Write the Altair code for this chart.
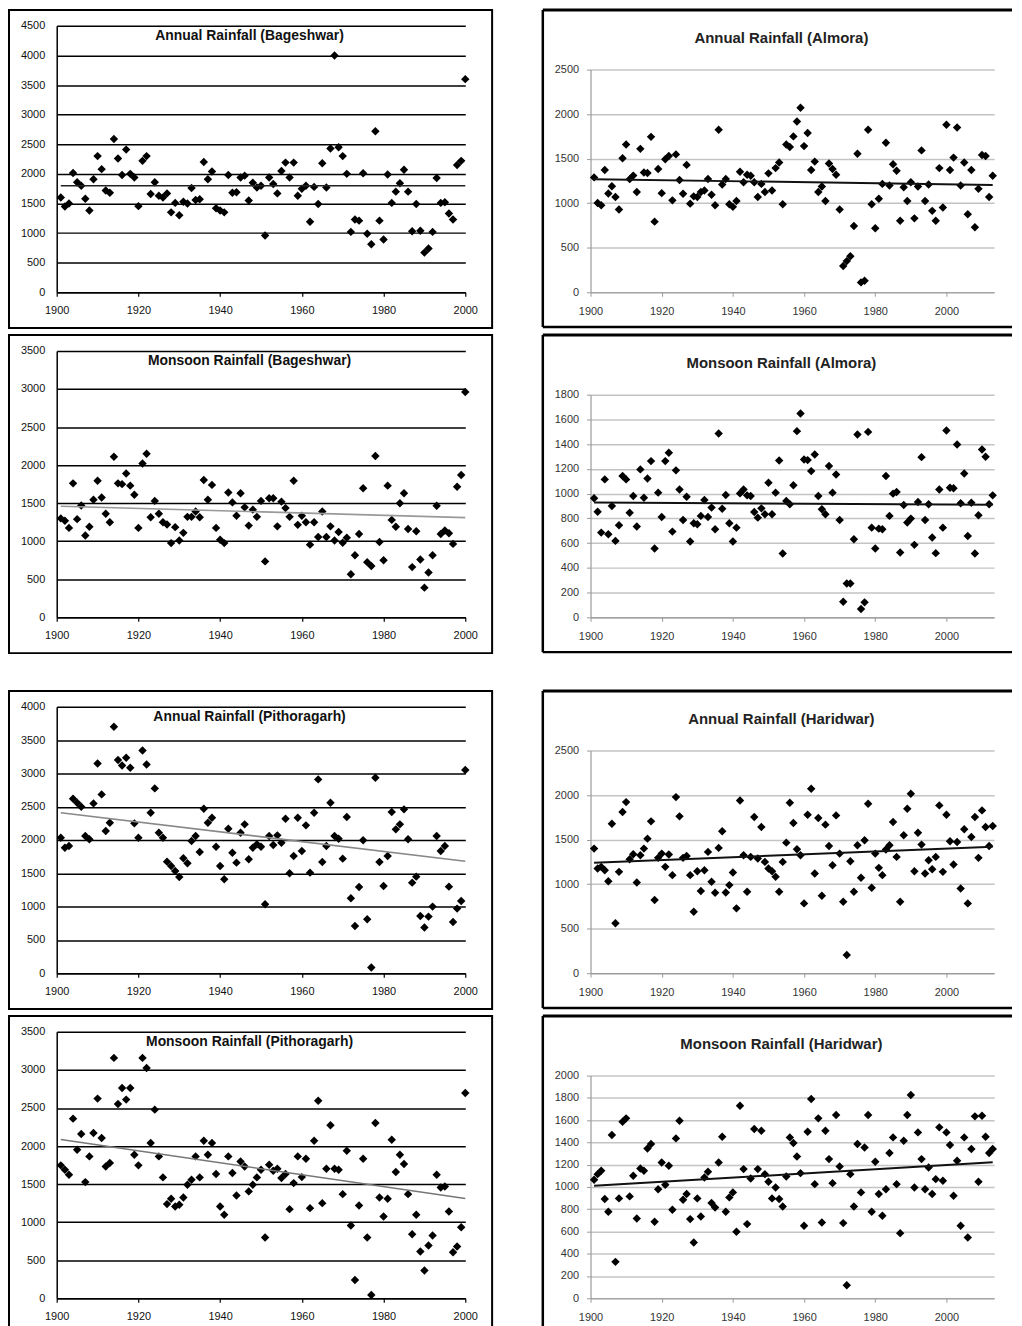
import altair as alt
import pandas as pd

FONT = "Liberation Sans"

YEARS_L = list(range(1901, 2001))
YEARS_R = list(range(1901, 2014))
X_LABELS = [1900, 1920, 1940, 1960, 1980, 2000]

bag_annual = [1600, 1450, 1500, 2015, 1860, 1800, 1580, 1380, 1910, 2300,
              2080, 1720, 1680, 2590, 2260, 1980, 2410, 2000, 1940, 1455,
              2220, 2300, 1660, 1860, 1630, 1600, 1670, 1350, 1510, 1300,
              1530, 1500, 1760, 1560, 1570, 2200, 1910, 2040, 1420, 1380,
              1350, 1980, 1680, 1690, 1940, 1970, 1550, 1850, 1770, 1800,
              960, 1940, 1830, 1670, 2050, 2190, 1940, 2190, 1630, 1750,
              1800, 1190, 1780, 1490, 2180, 1770, 2430, 4000, 2450, 2300,
              2000, 1020, 1230, 1210, 2010, 990, 810, 2720, 1210, 890,
              1990, 1510, 1700, 1840, 2070, 1700, 1030, 1490, 1040, 670,
              740, 1020, 1930, 1510, 1520, 1330, 1230, 2150, 2220, 3600]

bag_monsoon = [1300, 1270, 1175, 1760, 1290, 1470, 1075, 1190, 1545, 1795,
               1575, 1360, 1250, 2110, 1760, 1750, 1890, 1730, 1610, 1175,
               2020, 2150, 1315, 1530, 1360, 1250, 1220, 975, 1185, 1010,
               1110, 1320, 1320, 1390, 1315, 1805, 1545, 1740, 1175, 1020,
               975, 1640, 1510, 1335, 1630, 1445, 1205, 1415, 1320, 1530,
               735, 1565, 1565, 1195, 1520, 1435, 1320, 1795, 1215, 1335,
               1250, 955, 1250, 1055, 1390, 1055, 1195, 1010, 1120, 980,
               1045, 565, 815, 1095, 1695, 725, 675, 2120, 990, 750,
               1730, 1280, 1190, 1500, 1630, 1160, 660, 1130, 760, 390,
               590, 815, 1465, 1095, 1140, 1105, 965, 1715, 1870, 2960]

pith_annual = [2035, 1885, 1910, 2620, 2560, 2500, 2060, 2010, 2550, 3150,
               2685, 2135, 2260, 3700, 3200, 3120, 3235, 3085, 2250, 2035,
               3345, 3135, 2410, 2775, 2110, 2035, 1675, 1610, 1535, 1445,
               1725, 1650, 1985, 2060, 1820, 2470, 2260, 2335, 1900, 1610,
               1410, 2170, 1810, 1660, 2110, 2235, 1710, 1885, 1935, 1900,
               1035, 2060, 1925, 2070, 1960, 2320, 1500, 1760, 2335, 1835,
               2220, 1510, 2410, 2910, 1670, 1910, 2560, 2060, 2020, 1720,
               2345, 1125, 710, 1295, 1995, 810, 85, 2935, 1670, 1310,
               1760, 2420, 2160, 2235, 2460, 2010, 1360, 1450, 860, 685,
               850, 1000, 2060, 1835, 1910, 1300, 770, 970, 1085, 3050]

pith_monsoon = [1746, 1689, 1623, 2360, 1952, 2158, 1526, 1864, 2171, 2623,
                2105, 1732, 1776, 3158, 2553, 2763, 2610, 2763, 1886, 1746,
                3158, 3026, 2039, 2478, 1864, 1588, 1237, 1307, 1206, 1228,
                1325, 1491, 1557, 1864, 1588, 2070, 1886, 2039, 1632, 1206,
                1097, 1864, 1645, 1351, 1798, 1732, 1404, 1491, 1588, 1689,
                798, 1754, 1675, 1702, 1579, 1632, 1171, 1513, 1864, 1592,
                1833, 1184, 2070, 2596, 1250, 1702, 2272, 1702, 1689, 1368,
                1939, 956, 241, 1219, 1833, 798, 44, 2303, 1325, 1075,
                1307, 2083, 1658, 1886, 1763, 1368, 842, 1097, 614, 364,
                693, 825, 1623, 1456, 1469, 1140, 605, 680, 934, 2697]

alm_annual = [1290, 1003, 977, 1372, 1110, 1190, 1070, 930, 1505, 1660,
              1270, 1310, 1125, 1610, 1345, 1340, 1745, 793, 1383, 1113,
              1493, 1530, 1032, 1548, 1261, 1106, 1430, 995, 1077, 1070,
              1125, 1143, 1272, 1095, 977, 1825, 1210, 1272, 988, 959,
              1025, 1353, 1235, 1320, 1309, 1235, 1070, 1217, 1125, 1335,
              1143, 1394, 1456, 988, 1660, 1630, 1750, 1917, 2072, 1641,
              1788, 1372, 1467, 1125, 1187, 1025, 1445, 1383, 1320, 930,
              295, 350, 405, 745, 1556, 111, 129, 1825, 988, 719,
              1051, 1217, 1678, 1198, 1438, 1364, 804, 1180, 1025, 1235,
              830, 1187, 1593, 1025, 1210, 914, 804, 1394, 951, 1880,
              1372, 1512, 1851, 1198, 1456, 877, 1372, 730, 1161, 1541,
              1530, 1070, 1309]

alm_monsoon = [962, 854, 685, 1115, 672, 900, 618, 744, 1142, 1115,
               846, 981, 734, 1196, 967, 1123, 1263, 556, 1008, 811,
               1263, 1330, 693, 1188, 1034, 787, 975, 613, 760, 752,
               820, 948, 811, 887, 712, 1486, 878, 989, 760, 613,
               725, 1002, 1034, 986, 981, 852, 806, 881, 833, 1088,
               833, 1008, 1268, 516, 940, 914, 1067, 1505, 1647, 1276,
               1271, 1182, 1317, 981, 873, 833, 1223, 1008, 1155, 787,
               126, 274, 274, 631, 1478, 67, 121, 1499, 725, 556,
               717, 712, 1142, 820, 1000, 1013, 524, 908, 766, 798,
               586, 932, 1295, 787, 914, 645, 519, 1034, 725, 1510,
               1048, 1043, 1397, 922, 1163, 658, 927, 516, 825, 1357,
               1298, 914, 986]

har_annual = [1399, 1175, 1194, 1157, 1033, 1679, 560, 1138, 1810, 1921,
              1280, 1336, 1019, 1325, 1399, 1511, 1705, 821, 1295, 1343,
              1194, 1332, 1101, 1977, 1761, 1295, 1317, 1101, 690, 1145,
              922, 1157, 1362, 1026, 903, 1407, 1593, 907, 989, 1130,
              728, 1940, 1325, 914, 1306, 1754, 1287, 1642, 1250, 1175,
              1145, 1082, 914, 1250, 1466, 1914, 1686, 1392, 1325, 784,
              1780, 2071, 1119, 1742, 869, 1668, 1429, 1213, 1772, 1343,
              802, 205, 1257, 914, 1436, 1071, 1492, 1903, 959, 1343,
              1183, 1101, 1388, 1436, 1698, 1306, 802, 1548, 1847, 2015,
              1145, 1578, 1444, 1119, 1269, 1168, 1306, 1884, 1138, 1780,
              1481, 1220, 1474, 951, 1616, 784, 1530, 1754, 1295, 1828,
              1642, 1429, 1653]

har_monsoon = [1065, 1115, 1146, 891, 777, 1466, 327, 897, 1586, 1616,
               915, 1100, 717, 1166, 1146, 1346, 1385, 687, 980, 1220,
               1019, 1190, 795, 1436, 1595, 885, 936, 711, 501, 897,
               735, 1085, 1136, 855, 816, 1220, 1451, 777, 906, 951,
               597, 1730, 1160, 666, 1076, 1520, 1160, 1505, 1115, 1046,
               897, 995, 891, 825, 1094, 1445, 1394, 1274, 1124, 651,
               1496, 1790, 1025, 1616, 681, 1505, 1250, 1034, 1646, 1184,
               675, 117, 1115, 825, 1385, 951, 1355, 1646, 777, 1226,
               936, 741, 980, 1304, 1445, 1025, 585, 1415, 1646, 1826,
               995, 1490, 1250, 980, 1175, 936, 1070, 1535, 1055, 1490,
               1376, 921, 1235, 651, 1445, 546, 1340, 1634, 1046, 1640,
               1451, 1304, 1340]

# trend lines, start/end values
TREND_YEARS_L = [1901, 2000]
TREND_YEARS_R = [1901, 2013]
trend_bag_annual = [1800, 1800]
trend_bag_monsoon = [1460, 1310]
trend_pith_annual = [2410, 1680]
trend_pith_monsoon = [2085, 1310]
trend_alm_annual = [1270, 1205]
trend_alm_monsoon = [928, 910]
trend_har_annual = [1240, 1420]
trend_har_monsoon = [1010, 1222]

H = 268  # group height shared by both panels of a row


def one():
    return pd.DataFrame({"k": [0]})


def left_panel(title, values, trend, ymax, trend_color):
    W = 411
    df = pd.DataFrame({"year": YEARS_L, "value": values})
    tdf = pd.DataFrame({"year": TREND_YEARS_L, "value": trend})
    xs = alt.Scale(domain=[1900, 2000], nice=False, zero=False)
    ys = alt.Scale(domain=[0, ymax], nice=False, zero=True)
    xax = alt.Axis(values=X_LABELS, format="d", grid=False, domainColor="black",
                   domainWidth=1.5, tickColor="black", tickWidth=1.2, tickSize=4,
                   labelPadding=8, labelFontSize=11, labelColor="#111", labelFlush=False,
                   title=None)
    yax = alt.Axis(values=list(range(0, ymax + 1, 500)), format="d", grid=True,
                   gridColor="black", gridWidth=1.5, domainColor="black", domainWidth=1.5,
                   ticks=False, labelPadding=12, labelFontSize=11, labelColor="#111",
                   labelFlush=False, title=None)
    pts = alt.Chart(df).mark_point(shape="diamond", filled=True, size=72, color="black",
                                   opacity=1).encode(
        x=alt.X("year:Q", scale=xs, axis=xax), y=alt.Y("value:Q", scale=ys, axis=yax))
    tl = alt.Chart(tdf).mark_line(color=trend_color, strokeWidth=1.6).encode(
        x=alt.X("year:Q", scale=xs, axis=xax), y=alt.Y("value:Q", scale=ys, axis=yax))
    ttl = alt.Chart(one()).mark_text(text=title, font=FONT, fontSize=14, fontWeight="bold",
                                     color="#111", baseline="middle", align="center").encode(
        x=alt.value(194), y=alt.value(10))
    frame = alt.Chart(one()).mark_rect(fillOpacity=0, stroke="black", strokeWidth=2).encode(
        x=alt.value(-48), x2=alt.value(W + 27), y=alt.value(-16), y2=alt.value(H + 36))
    return alt.layer(frame, pts, tl, ttl).properties(width=W, height=H)


def right_panel(title, values, trend, ymax, step):
    W = 406
    top_px = 44
    df = pd.DataFrame({"year": YEARS_R, "value": values})
    tdf = pd.DataFrame({"year": TREND_YEARS_R, "value": trend})
    xs = alt.Scale(domain=[1900, 2013.4], nice=False, zero=False)
    ys = alt.Scale(domain=[0, ymax], nice=False, zero=True, range=[H, top_px])
    xax = alt.Axis(values=X_LABELS, format="d", grid=False, domainColor="#9a9a9a",
                   domainWidth=1.2, tickColor="#9a9a9a", tickSize=4,
                   labelPadding=9, labelFontSize=11, labelColor="#333", labelFlush=False,
                   title=None)
    yax = alt.Axis(values=list(range(0, ymax + 1, step)), format="d", grid=True,
                   gridColor="#c4c4c4", gridWidth=1.5, domainColor="#9a9a9a",
                   domainWidth=1.2, tickColor="#9a9a9a", tickSize=4, labelPadding=8,
                   labelFontSize=11, labelColor="#333", labelFlush=False, title=None)
    pts = alt.Chart(df).mark_point(shape="diamond", filled=True, size=72, color="black",
                                   opacity=1).encode(
        x=alt.X("year:Q", scale=xs, axis=xax), y=alt.Y("value:Q", scale=ys, axis=yax))
    tl = alt.Chart(tdf).mark_line(color="#111", strokeWidth=2).encode(
        x=alt.X("year:Q", scale=xs, axis=xax), y=alt.Y("value:Q", scale=ys, axis=yax))
    ttl = alt.Chart(one()).mark_text(text=title, font=FONT, fontSize=15, fontWeight="bold",
                                     color="#222", baseline="middle", align="center").encode(
        x=alt.value(192), y=alt.value(12))
    r_top = alt.Chart(one()).mark_rule(color="black", strokeWidth=3).encode(
        x=alt.value(-48), x2=alt.value(424), y=alt.value(-16))
    r_left = alt.Chart(one()).mark_rule(color="black", strokeWidth=2.5).encode(
        x=alt.value(-48), y=alt.value(-16), y2=alt.value(H + 35))
    r_bot = alt.Chart(one()).mark_rule(color="black", strokeWidth=2.5).encode(
        x=alt.value(-48), x2=alt.value(424), y=alt.value(H + 35))
    return alt.layer(r_top, r_left, r_bot, pts, tl, ttl).properties(width=W, height=H)


p1 = left_panel("Annual Rainfall (Bageshwar)", bag_annual, trend_bag_annual, 4500, "#222")
p2 = right_panel("Annual Rainfall  (Almora)", alm_annual, trend_alm_annual, 2500, 500)
p3 = left_panel("Monsoon Rainfall (Bageshwar)", bag_monsoon, trend_bag_monsoon, 3500, "#999")
p4 = right_panel("Monsoon Rainfall  (Almora)", alm_monsoon, trend_alm_monsoon, 1800, 200)
p5 = left_panel("Annual Rainfall (Pithoragarh)", pith_annual, trend_pith_annual, 4000, "#888")
p6 = right_panel("Annual Rainfall  (Haridwar)", har_annual, trend_har_annual, 2500, 500)
p7 = left_panel("Monsoon Rainfall (Pithoragarh)", pith_monsoon, trend_pith_monsoon, 3500, "#777")
p8 = right_panel("Monsoon Rainfall  (Haridwar)", har_monsoon, trend_har_monsoon, 2000, 200)

row1 = alt.hconcat(p1, p2, spacing=48)
row2 = alt.hconcat(p3, p4, spacing=48)
row3 = alt.hconcat(p5, p6, spacing=48)
row4 = alt.hconcat(p7, p8, spacing=48)

upper = alt.vconcat(row1, row2, spacing=4)
lower = alt.vconcat(row3, row4, spacing=4)

chart = alt.vconcat(upper, lower, spacing=35).properties(
    padding={"top": -4, "left": 0, "right": 0, "bottom": 0}).configure_view(
    strokeWidth=0).configure_axis(labelFont=FONT)

chart.save("out.html", embed_options={"renderer": "svg", "actions": False})
